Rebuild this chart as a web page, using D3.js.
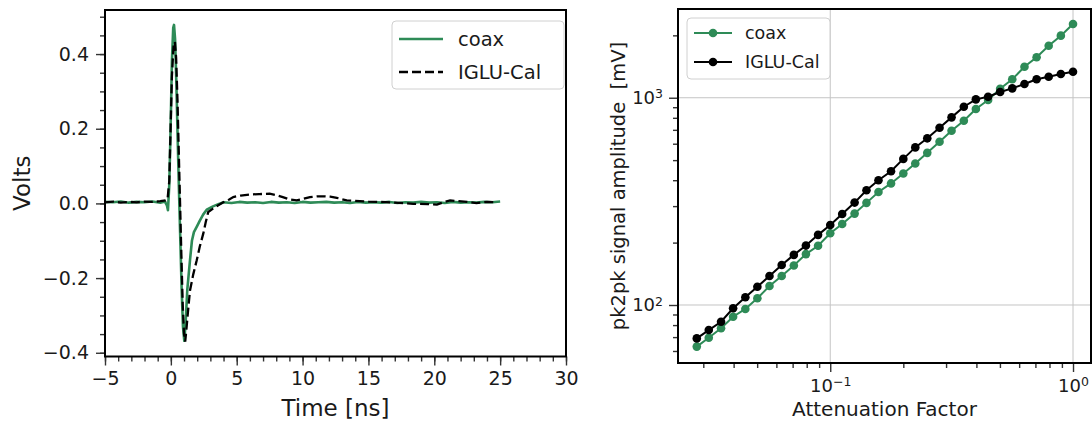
<!DOCTYPE html>
<html>
<head>
<meta charset="utf-8">
<script src="https://d3js.org/d3.v7.min.js"></script>
<style>
  body, html { margin: 0; background: #fff; }
  text { font-family: 'DejaVu Sans', sans-serif; fill: #1a1a1a; }
  .tick line { stroke: #333; stroke-width: 1.4px; }
  .grid line { stroke: #c4c4c4; stroke-width: 1px; }
</style>
</head>
<body>
<svg id="chart" width="1092" height="423"></svg>
<script>
// ---- left panel: pulse waveforms ----
var timeCoax = [-5,-4.4,-3.8,-3.2,-2.6,-2,-1.4,-0.8,-0.45,-0.3,-0.22,-0.12,-0.02,0.08,0.18,0.24,0.32,0.42,0.52,0.62,0.72,0.82,0.92,1.02,1.12,1.25,1.45,1.6,1.75,2,2.2,2.45,2.72,3.2,3.6,4,
  4.6,5.2,5.8,6.4,7,7.6,8.2,8.8,9.4,10,10.6,11.2,11.8,12.4,13,13.6,14.2,14.8,15.4,16,16.6,17.2,17.8,18.4,19,19.6,20.2,20.8,21.4,22,22.6,23.2,23.8,24.4,25];
var voltsCoax = [0.004,0.003,0.005,0.002,0.004,0.003,0.005,0.002,0.005,-0.005,-0.018,0.05,0.2,0.38,0.47,0.478,0.44,0.32,0.17,0.03,-0.1,-0.23,-0.33,-0.368,-0.32,-0.23,-0.153,-0.1,-0.077,-0.06,-0.046,-0.03,-0.017,-0.008,-0.002,0.003,
  0.001,0.004,0.002,0.003,0.001,0.004,0.002,0.003,0.001,0.004,0.002,0.003,0.004,0.002,0.003,0.001,0.004,0.002,0.003,0.002,0.004,0.001,0.003,0.002,0.004,0.002,0.003,0.001,0.004,0.002,0.003,0.002,0.004,0.003,0.005];

var timeIglu = [-5,-4.4,-3.8,-3.2,-2.6,-2,-1.4,-0.8,-0.4,-0.25,-0.12,-0.02,0.08,0.2,0.31,0.4,0.5,0.6,0.7,0.8,0.9,1.0,1.09,1.2,1.3,1.45,1.7,1.96,2.2,2.46,2.65,2.84,3.2,3.6,3.98,4.4,4.74,
  5.3,6,6.7,7.5,8,8.5,9,9.55,10,10.56,11.1,11.6,12.1,12.6,13.35,14,15,15.9,17,18.4,19.5,20.2,20.7,21.2,21.8,22.5,23.2,24,24.6];
var voltsIglu = [0.003,0.005,0.002,0.004,0.003,0.005,0.004,0.006,0.008,0.012,0.06,0.2,0.34,0.42,0.433,0.39,0.28,0.14,0,-0.14,-0.27,-0.35,-0.37,-0.33,-0.29,-0.234,-0.19,-0.153,-0.115,-0.081,-0.05,-0.023,-0.014,-0.005,0.003,0.01,0.017,
  0.021,0.024,0.025,0.026,0.022,0.017,0.011,0.008,0.012,0.017,0.019,0.019,0.018,0.015,0.008,0.007,0.005,0.004,0.002,-0.001,-0.002,-0.003,0.003,0.008,0.006,0.004,0.001,0.004,0.003];

var timeTicks = [-5, 0, 5, 10, 15, 20, 25, 30];
var voltTicks = [-0.4, -0.2, 0.0, 0.2, 0.4];

// ---- right panel: amplitude vs attenuation ----
var attenuation = [0.0282,0.0316,0.0355,0.0398,0.0447,0.0501,0.0562,0.0631,0.0708,0.0794,0.0891,0.1,0.112,0.126,0.141,0.158,0.178,0.2,0.224,0.251,0.282,0.316,0.355,0.398,0.447,0.501,0.562,0.631,0.708,0.794,0.891,1.0];
var ampCoax = [63,69.5,77.2,87.8,95.7,107.7,123.5,138,155,176,193,222,246,276,311,351,386,431,482,542,613,693,774,882,975,1105,1227,1412,1567,1783,1993,2270];
var ampIglu = [69,75.7,83,96.4,109,122.5,138,156,174.5,193.5,218,243,275,312,358,400,442,507,576,637,716,804,905,982,1011,1065,1110,1165,1227,1263,1302,1335];

var attTicks = [0.1, 1];
var ampTicks = [100, 1000];

var green = "#2e8b57";
var svg = d3.select("#chart");

// ================= left panel =================
var L = {x0: 105, x1: 566, y0: 10, y1: 356.5};
var xL = d3.scaleLinear().domain([-5, 30]).range([L.x0, L.x1]);
var yL = d3.scaleLinear().domain([-0.41, 0.518]).range([L.y1, L.y0]);

var left = svg.append("g");
var minorT = d3.range(-5, 30.01, 1);
var minorV = d3.range(-0.4, 0.51, 0.05);

left.append("g").attr("transform", "translate(0," + L.y1 + ")")
  .call(d3.axisBottom(xL).tickValues(minorT).tickSize(5).tickFormat(""))
  .call(g => g.select(".domain").remove());
left.append("g").attr("transform", "translate(" + L.x0 + ",0)")
  .call(d3.axisLeft(yL).tickValues(minorV).tickSize(5).tickFormat(""))
  .call(g => g.select(".domain").remove());

left.append("g").attr("transform", "translate(0," + L.y1 + ")")
  .call(d3.axisBottom(xL).tickValues(timeTicks).tickSize(9).tickPadding(6).tickFormat(d3.format("d")))
  .call(g => g.select(".domain").remove())
  .selectAll("text").style("font-size", "19px").attr("fill", "#1a1a1a");
left.append("g").attr("transform", "translate(" + L.x0 + ",0)")
  .call(d3.axisLeft(yL).tickValues(voltTicks).tickSize(9).tickPadding(7).tickFormat(d3.format(".1f")))
  .call(g => g.select(".domain").remove())
  .selectAll("text").style("font-size", "19px").attr("fill", "#1a1a1a");

var lineL = d3.line().x(d => xL(d[0])).y(d => yL(d[1]));
left.append("path").datum(d3.zip(timeCoax, voltsCoax))
  .attr("d", lineL).attr("fill", "none").attr("stroke", green).attr("stroke-width", 2.6)
  .attr("stroke-linejoin", "round");
left.append("path").datum(d3.zip(timeIglu, voltsIglu))
  .attr("d", lineL).attr("fill", "none").attr("stroke", "#000").attr("stroke-width", 2.3)
  .attr("stroke-dasharray", "9,4");

left.append("rect").attr("x", L.x0).attr("y", L.y0)
  .attr("width", L.x1 - L.x0).attr("height", L.y1 - L.y0)
  .attr("fill", "none").attr("stroke", "#000").attr("stroke-width", 2);

left.append("text").attr("transform", "translate(30," + (L.y0 + L.y1) / 2 + ") rotate(-90)")
  .attr("text-anchor", "middle").style("font-size", "23px").text("Volts");
left.append("text").attr("x", (L.x0 + L.x1) / 2).attr("y", 416)
  .attr("text-anchor", "middle").style("font-size", "23px").text("Time [ns]");

// legend
var legL = left.append("g");
legL.append("rect").attr("x", 392).attr("y", 21).attr("width", 172).attr("height", 68).attr("rx", 4)
  .attr("fill", "#fff").attr("fill-opacity", 0.8).attr("stroke", "#d0d0d0");
[["coax", green, null], ["IGLU-Cal", "#000", "9,4"]].forEach(function(e, i) {
  var y = 39 + i * 33;
  legL.append("line").attr("x1", 399).attr("x2", 443).attr("y1", y).attr("y2", y)
    .attr("stroke", e[1]).attr("stroke-width", e[2] ? 2.3 : 2.6).attr("stroke-dasharray", e[2]);
  legL.append("text").attr("x", 458).attr("y", y).attr("dy", "0.36em")
    .style("font-size", "19.5px").text(e[0]);
});

// ================= right panel =================
var R = {x0: 678, x1: 1091, y0: 9, y1: 363};
var xR = d3.scaleLog().domain([0.0236, 1.186]).range([R.x0, R.x1]);
var yR = d3.scaleLog().domain([52.5, 2680]).range([R.y1, R.y0]);
var right = svg.append("g");

// grid
right.append("g").attr("class", "grid").selectAll("line").data(attTicks).enter().append("line")
  .attr("x1", d => xR(d)).attr("x2", d => xR(d)).attr("y1", R.y0).attr("y2", R.y1);
right.append("g").attr("class", "grid").selectAll("line").data(ampTicks).enter().append("line")
  .attr("y1", d => yR(d)).attr("y2", d => yR(d)).attr("x1", R.x0).attr("x2", R.x1);

var minorAtt = [], minorAmp = [];
[0.01, 0.1].forEach(b => { for (var k = 2; k < 10; k++) if (b * k > 0.0236) minorAtt.push(b * k); });
[10, 100, 1000].forEach(b => { for (var k = 2; k < 10; k++) if (b * k > 52.5 && b * k < 2680) minorAmp.push(b * k); });

right.append("g").attr("transform", "translate(0," + R.y1 + ")")
  .call(d3.axisBottom(xR).tickValues(minorAtt).tickSize(5).tickFormat(""))
  .call(g => g.select(".domain").remove());
right.append("g").attr("transform", "translate(" + R.x0 + ",0)")
  .call(d3.axisLeft(yR).tickValues(minorAmp).tickSize(5).tickFormat(""))
  .call(g => g.select(".domain").remove());

function powLabel(sel) {
  sel.each(function(d) {
    var t = d3.select(this).text("").style("font-size", "18px").attr("fill", "#1a1a1a");
    t.append("tspan").text("10");
    t.append("tspan").attr("dy", "-0.45em").style("font-size", "12.5px")
      .text(String(Math.round(Math.log10(d))).replace("-", "\u2212"));
  });
}
right.append("g").attr("transform", "translate(0," + R.y1 + ")")
  .call(d3.axisBottom(xR).tickValues(attTicks).tickSize(9).tickPadding(7))
  .call(g => g.select(".domain").remove())
  .selectAll("text").call(powLabel);
right.append("g").attr("transform", "translate(" + R.x0 + ",0)")
  .call(d3.axisLeft(yR).tickValues(ampTicks).tickSize(9).tickPadding(6))
  .call(g => g.select(".domain").remove())
  .selectAll("text").call(powLabel);

var lineR = d3.line().x(d => xR(d[0])).y(d => yR(d[1]));
[[ampCoax, green], [ampIglu, "#000"]].forEach(function(s) {
  var pts = d3.zip(attenuation, s[0]);
  right.append("path").datum(pts).attr("d", lineR)
    .attr("fill", "none").attr("stroke", s[1]).attr("stroke-width", 2);
  right.append("g").selectAll("circle").data(pts).enter().append("circle")
    .attr("cx", d => xR(d[0])).attr("cy", d => yR(d[1])).attr("r", 4.3).attr("fill", s[1]);
});

right.append("rect").attr("x", R.x0).attr("y", R.y0)
  .attr("width", R.x1 - R.x0).attr("height", R.y1 - R.y0)
  .attr("fill", "none").attr("stroke", "#000").attr("stroke-width", 2);

right.append("text").attr("transform", "translate(625," + (R.y0 + R.y1) / 2 + ") rotate(-90)")
  .attr("text-anchor", "middle").style("font-size", "19.5px")
  .text("pk2pk signal amplitude\u00a0\u00a0[mV]");
right.append("text").attr("x", (R.x0 + R.x1) / 2).attr("y", 416)
  .attr("text-anchor", "middle").style("font-size", "20px").text("Attenuation Factor");

var legR = right.append("g");
legR.append("rect").attr("x", 687).attr("y", 18).attr("width", 143).attr("height", 61).attr("rx", 4)
  .attr("fill", "#fff").attr("fill-opacity", 0.8).attr("stroke", "#d0d0d0");
[["coax", green], ["IGLU-Cal", "#000"]].forEach(function(e, i) {
  var y = 33 + i * 29;
  legR.append("line").attr("x1", 694).attr("x2", 732).attr("y1", y).attr("y2", y)
    .attr("stroke", e[1]).attr("stroke-width", 2);
  legR.append("circle").attr("cx", 713).attr("cy", y).attr("r", 4.3).attr("fill", e[1]);
  legR.append("text").attr("x", 745).attr("y", y).attr("dy", "0.36em")
    .style("font-size", "17.5px").text(e[0]);
});
</script>
</body>
</html>
